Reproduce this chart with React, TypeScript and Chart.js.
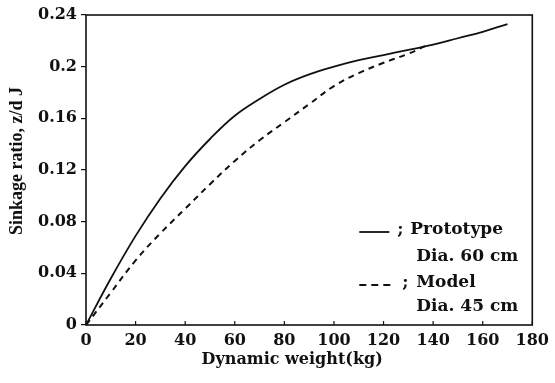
import React, { useEffect, useRef } from "react";
import { Chart, registerables } from "chart.js";

Chart.register(...registerables);

// Prototype footing (Dia. 60 cm): dynamic weight (kg) vs sinkage ratio z/d
const prototypeWeight = [0, 10, 20, 30, 40, 50, 60, 70, 80, 90, 100, 110, 120, 130, 140, 150, 160, 170];
const prototypeRatio = [0, 0.036, 0.069, 0.098, 0.123, 0.144, 0.162, 0.175, 0.186, 0.194, 0.2, 0.205, 0.209, 0.213, 0.217, 0.222, 0.227, 0.233];

// Scale model (Dia. 45 cm)
const modelWeight = [0, 10, 20, 30, 40, 50, 60, 70, 80, 90, 100, 110, 120, 130, 138];
const modelRatio = [0, 0.025, 0.05, 0.071, 0.09, 0.109, 0.127, 0.143, 0.157, 0.171, 0.185, 0.195, 0.203, 0.21, 0.217];

const xTicks = [0, 20, 40, 60, 80, 100, 120, 140, 160, 180];
const yTicks = [0, 0.04, 0.08, 0.12, 0.16, 0.2, 0.24];
const yTickLabels = ["0", "0.04", "0.08", "0.12", "0.16", "0.2", "0.24"];

const INK = "#111";
const TICK_FONT = "'DejaVu Serif', serif";

const framePlugin = {
  id: "frame",
  afterDraw(chart: any) {
    const { ctx, chartArea: a, scales } = chart;
    ctx.save();
    ctx.strokeStyle = INK;
    ctx.fillStyle = INK;
    ctx.lineWidth = 1.6;
    ctx.strokeRect(a.left, a.top, a.right - a.left, a.bottom - a.top);

    // short ticks on the x axis, pointing into the plot
    ctx.lineWidth = 1.2;
    xTicks.forEach((v) => {
      const px = scales.x.getPixelForValue(v);
      ctx.beginPath();
      ctx.moveTo(px, a.bottom);
      ctx.lineTo(px, a.bottom - 4);
      ctx.stroke();
    });

    // axis titles
    ctx.textAlign = "center";
    ctx.textBaseline = "middle";
    ctx.font = `bold 16px ${TICK_FONT}`;
    ctx.fillText("Dynamic weight(kg)", (a.left + a.right) / 2 - 17, a.bottom + 35);

    ctx.save();
    ctx.translate(17, (a.top + a.bottom) / 2 - 9);
    ctx.rotate(-Math.PI / 2);
    ctx.font = "bold 18px 'Liberation Serif', serif";
    ctx.fillText("Sinkage ratio, z/d J", 0, 0);
    ctx.restore();

    // legend block in the lower right corner
    ctx.textAlign = "left";
    ctx.font = `bold 17px ${TICK_FONT}`;
    const lineX0 = a.right - 173;
    const rows = [
      { y: a.bottom - 95, text: "Prototype", textX: a.right - 122, semiX: a.right - 135, dash: [] as number[], lineEnd: a.right - 143 },
      { y: a.bottom - 68, text: "Dia. 60 cm", textX: a.right - 116 },
      { y: a.bottom - 42, text: "Model", textX: a.right - 116, semiX: a.right - 130, dash: [7, 5], lineEnd: a.right - 141 },
      { y: a.bottom - 18, text: "Dia. 45 cm", textX: a.right - 116 },
    ];
    rows.forEach((r: any) => {
      if (r.dash) {
        ctx.save();
        ctx.lineWidth = 1.8;
        ctx.setLineDash(r.dash);
        ctx.beginPath();
        ctx.moveTo(lineX0, r.y + 2);
        ctx.lineTo(r.lineEnd, r.y + 2);
        ctx.stroke();
        ctx.restore();
        ctx.fillText(";", r.semiX, r.y);
      }
      ctx.fillText(r.text, r.textX, r.y);
    });
    ctx.restore();
  },
};

export default function App() {
  const canvasRef = useRef<HTMLCanvasElement | null>(null);

  useEffect(() => {
    document.body.style.margin = "0";
    const canvas = canvasRef.current;
    if (!canvas) return;

    const chart = new Chart(canvas, {
      type: "line",
      data: {
        datasets: [
          {
            label: "Prototype Dia. 60 cm",
            data: prototypeWeight.map((x, i) => ({ x, y: prototypeRatio[i] })),
            borderColor: INK,
            borderWidth: 1.8,
            pointRadius: 0,
            fill: false,
            tension: 0.4,
          },
          {
            label: "Model Dia. 45 cm",
            data: modelWeight.map((x, i) => ({ x, y: modelRatio[i] })),
            borderColor: INK,
            borderWidth: 2,
            borderDash: [6, 5],
            pointRadius: 0,
            fill: false,
            tension: 0.4,
          },
        ],
      },
      plugins: [framePlugin],
      options: {
        responsive: false,
        animation: false,
        layout: { padding: { top: 15, right: 17, left: 0, bottom: 0 } },
        plugins: { legend: { display: false }, tooltip: { enabled: false } },
        scales: {
          x: {
            type: "linear",
            min: 0,
            max: 180,
            afterBuildTicks: (scale: any) => {
              scale.ticks = xTicks.map((v) => ({ value: v }));
            },
            afterFit: (scale: any) => {
              scale.height = 58;
            },
            grid: { display: false, drawTicks: false },
            border: { display: false },
            ticks: {
              color: INK,
              padding: 6,
              maxRotation: 0,
              font: { family: TICK_FONT, size: 16, weight: "bold" },
            },
          },
          y: {
            type: "linear",
            min: 0,
            max: 0.24,
            afterBuildTicks: (scale: any) => {
              scale.ticks = yTicks.map((v) => ({ value: v }));
            },
            afterFit: (scale: any) => {
              scale.width = 86;
            },
            grid: {
              display: true,
              drawOnChartArea: false,
              drawTicks: true,
              tickLength: 5,
              color: INK,
              lineWidth: 1.2,
            },
            border: { display: false },
            ticks: {
              color: INK,
              padding: 4,
              font: { family: TICK_FONT, size: 16, weight: "bold" },
              callback: (value: any) => {
                const i = yTicks.findIndex((t) => Math.abs(t - Number(value)) < 1e-9);
                return i >= 0 ? yTickLabels[i] : "";
              },
            },
          },
        },
      },
    });

    return () => chart.destroy();
  }, []);

  return (
    <div style={{ position: "absolute", left: 0, top: 0, width: 555, height: 383, background: "#fff" }}>
      <canvas ref={canvasRef} width={555} height={383} style={{ display: "block" }} />
    </div>
  );
}
